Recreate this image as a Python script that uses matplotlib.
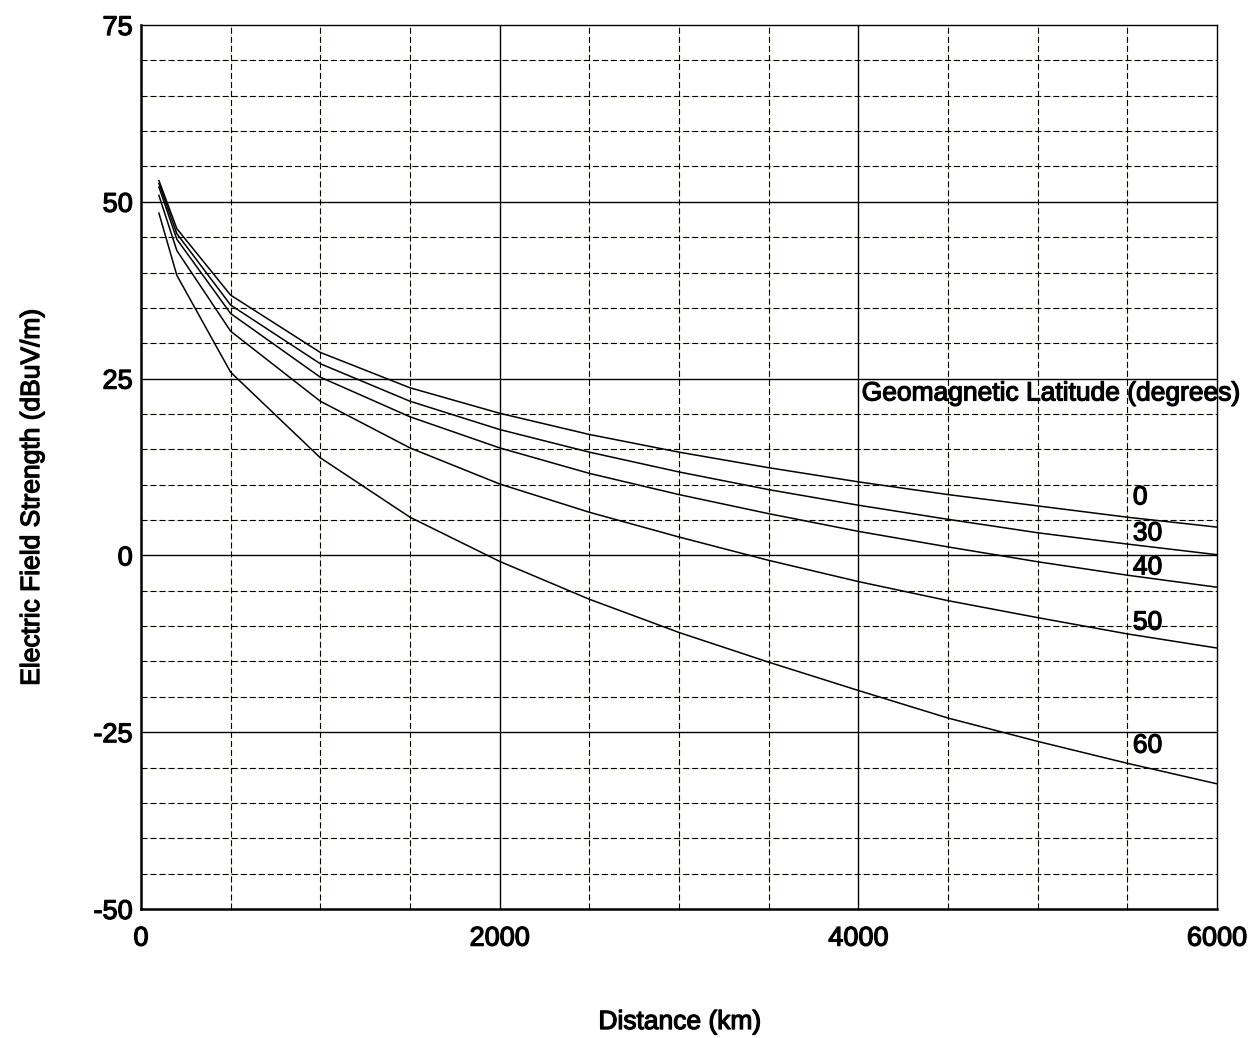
import matplotlib
matplotlib.use("Agg")
import matplotlib.pyplot as plt
import matplotlib.patheffects as pe

plt.rcParams['font.family'] = ['Liberation Sans', 'DejaVu Sans']
plt.rcParams['lines.scale_dashes'] = False
plt.rcParams['axes.unicode_minus'] = False

# distance (km) and field strength (dBuV/m) per geomagnetic latitude
distance = [100, 200, 500, 1000, 1500, 2000, 2500, 3000, 3500, 4000, 4500, 5000, 5500, 6000]
lat0 = [53.0, 46.2, 36.8, 28.7, 23.7, 20.1, 17.1, 14.6, 12.4, 10.4, 8.6, 7.0, 5.4, 4.0]
lat30 = [52.6, 45.5, 35.4, 27.1, 21.8, 17.8, 14.6, 11.8, 9.3, 7.1, 5.1, 3.2, 1.6, 0.1]
lat40 = [52.1, 44.7, 34.2, 25.2, 19.6, 15.2, 11.6, 8.6, 5.9, 3.4, 1.2, -0.9, -2.8, -4.5]
lat50 = [50.9, 43.1, 31.7, 21.8, 15.2, 10.1, 6.1, 2.6, -0.7, -3.7, -6.4, -8.8, -11.1, -13.1]
lat60 = [48.4, 39.6, 25.9, 13.8, 5.4, -0.85, -6.2, -10.9, -15.1, -19.1, -23.0, -26.3, -29.4, -32.3]

curves = [lat0, lat30, lat40, lat50, lat60]
curve_labels = ['0', '30', '40', '50', '60']
label_y = [8.2, 3.1, -1.7, -9.5, -26.9]

x_major = [0, 2000, 4000, 6000]
y_major = [-50, -25, 0, 25, 50, 75]

thick = [pe.withStroke(linewidth=0.9, foreground='black')]

fig = plt.figure(figsize=(12.51, 10.38), dpi=100)
ax = fig.add_axes([0.1127, 0.1243, 0.8601, 0.8516])
ax.set_xlim(0, 6000)
ax.set_ylim(-50, 75)

gap_col = '#ecebcf'
# grid: solid at major ticks, dashed elsewhere
for xv in range(500, 6000, 500):
    if xv in x_major:
        ax.axvline(xv, color='black', lw=1.0, zorder=1)
    else:
        ax.axvline(xv, color=gap_col, lw=0.8, zorder=0.5)
        ax.axvline(xv, color='black', lw=0.8, dashes=(4.3, 2.2), zorder=1)
for yv in range(-45, 75, 5):
    if yv in y_major:
        ax.axhline(yv, color='black', lw=1.0, zorder=1)
    else:
        ax.axhline(yv, color=gap_col, lw=0.8, zorder=0.5)
        ax.axhline(yv, color='black', lw=0.8, dashes=(4.3, 2.2), zorder=1)

for c in curves:
    ax.plot(distance, c, color='black', lw=1.1, zorder=3)

for lab, ly in zip(curve_labels, label_y):
    ax.text(5531, ly, lab, fontsize=19, ha='left', va='center', zorder=4,
            path_effects=thick)
ax.text(4019, 22.9, 'Geomagnetic Latitude (degrees)', fontsize=19,
        ha='left', va='center', zorder=4, clip_on=False, path_effects=thick)

ax.set_xticks(x_major)
ax.set_yticks(y_major)
ax.tick_params(length=0, labelsize=19.5, pad=6)
ax.tick_params(axis='x', pad=12)
for t in ax.get_xticklabels() + ax.get_yticklabels():
    t.set_path_effects(thick)

for side in ['left', 'bottom']:
    ax.spines[side].set_linewidth(1.8)
for side in ['top', 'right']:
    ax.spines[side].set_linewidth(1.0)

fig.text(0.5436, 0.0154, 'Distance (km)', fontsize=19, ha='center', va='center',
         path_effects=thick)
fig.text(0.0256, 0.521, 'Electric Field Strength (dBuV/m)', fontsize=19,
         ha='center', va='center', rotation=90, path_effects=thick)

fig.savefig('out.png', dpi=100)
